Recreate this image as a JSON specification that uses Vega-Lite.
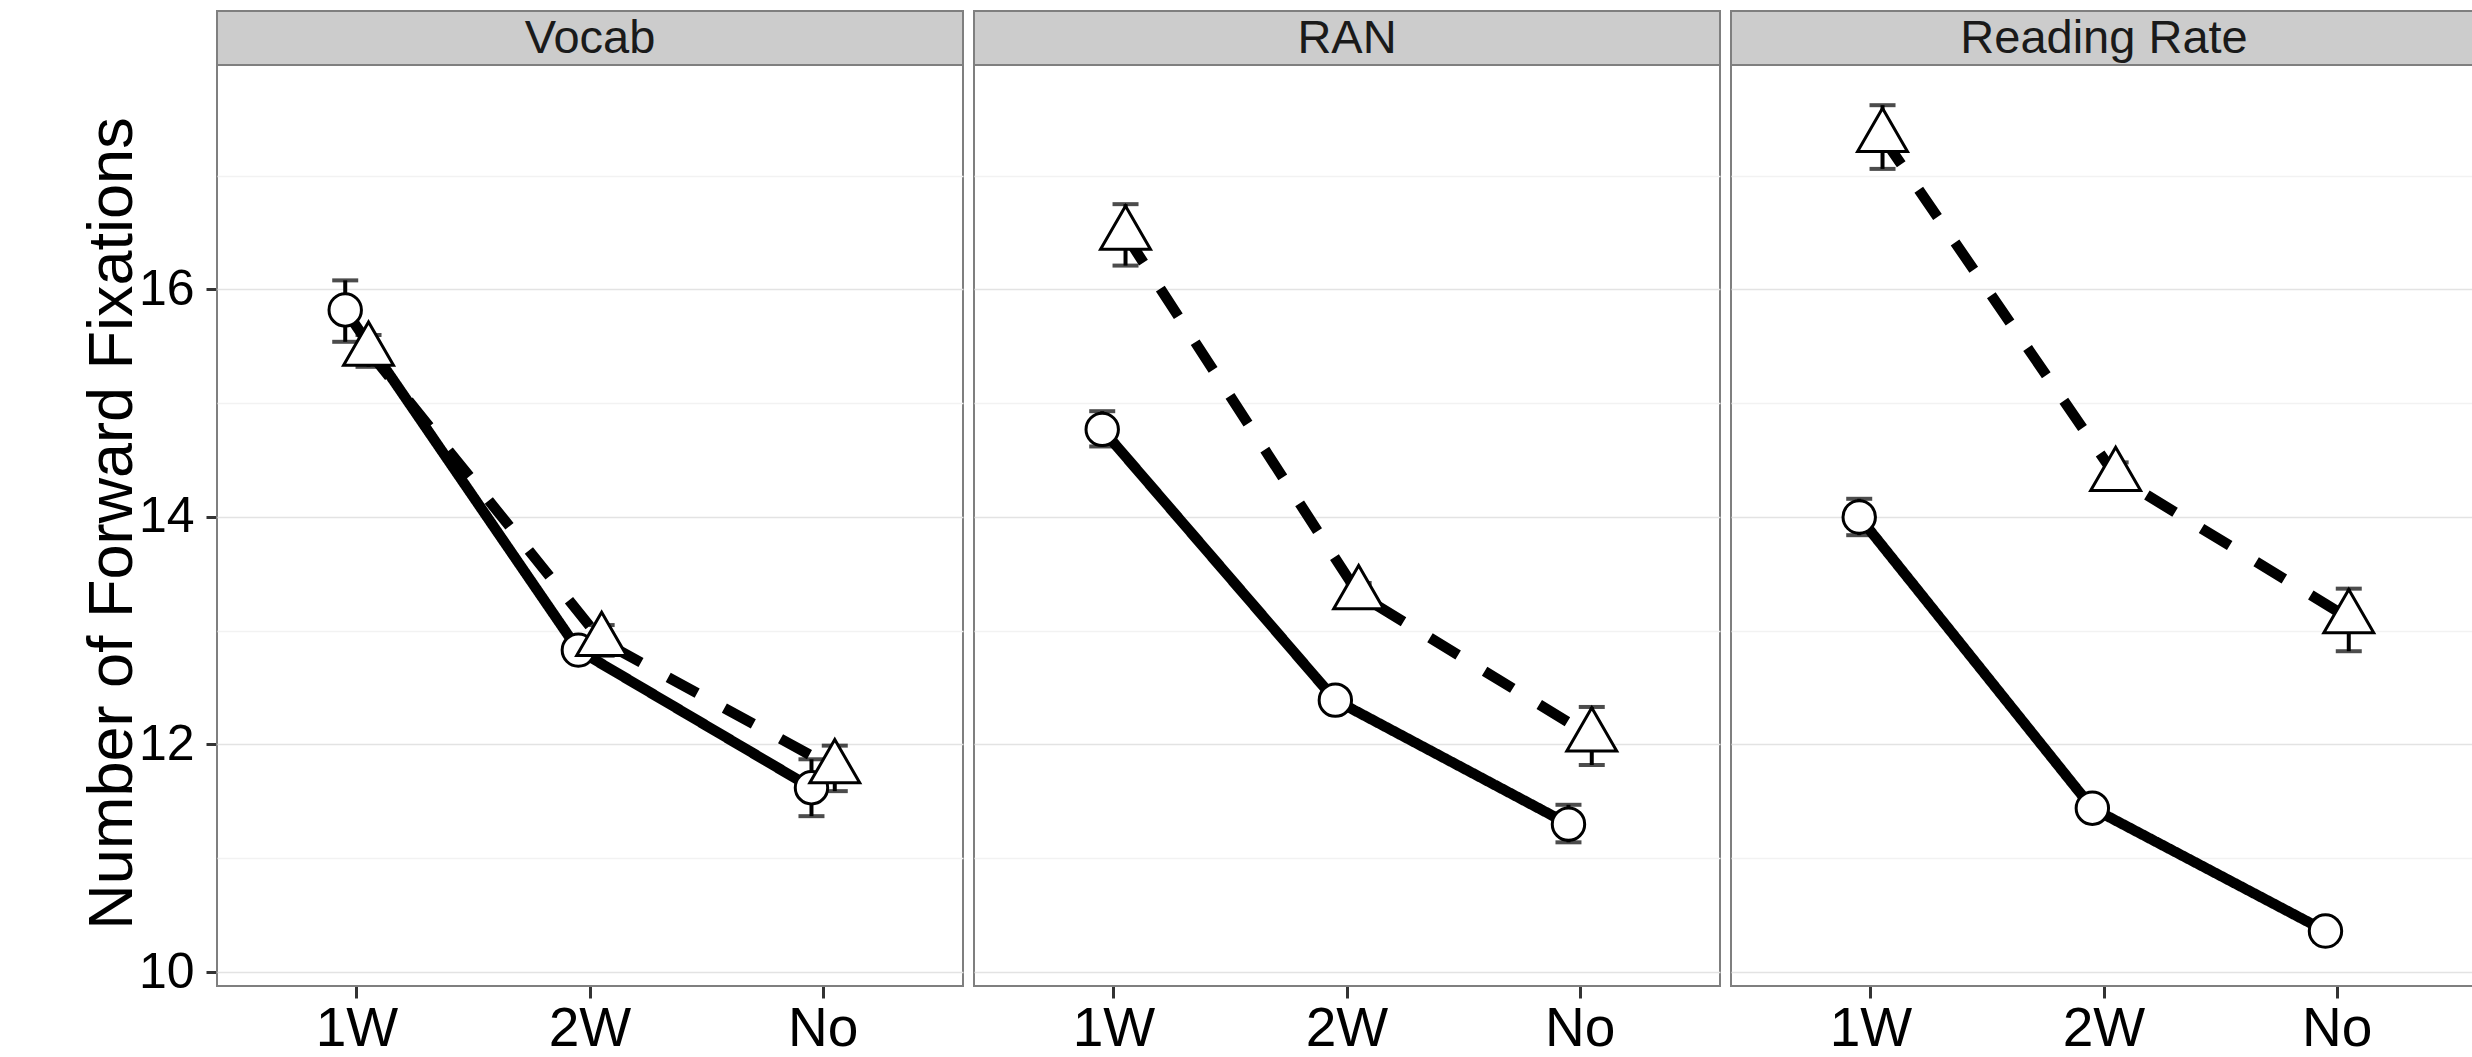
{
  "$schema": "https://vega.github.io/schema/vega-lite/v6.json",
  "padding": {"left": 80, "top": 9, "right": 0, "bottom": 0},
  "background": "white",
  "data": {"values": [
    {"panel": "Vocab", "cond": "1W", "group": "High", "mean": 15.82, "lo": 15.54, "hi": 16.08},
    {"panel": "Vocab", "cond": "2W", "group": "High", "mean": 12.83, "lo": 12.75, "hi": 12.91},
    {"panel": "Vocab", "cond": "No", "group": "High", "mean": 11.62, "lo": 11.37, "hi": 11.87},
    {"panel": "RAN", "cond": "1W", "group": "High", "mean": 14.77, "lo": 14.62, "hi": 14.93},
    {"panel": "RAN", "cond": "2W", "group": "High", "mean": 12.39, "lo": 12.31, "hi": 12.47},
    {"panel": "RAN", "cond": "No", "group": "High", "mean": 11.30, "lo": 11.14, "hi": 11.47},
    {"panel": "Reading Rate", "cond": "1W", "group": "High", "mean": 14.00, "lo": 13.84, "hi": 14.16},
    {"panel": "Reading Rate", "cond": "2W", "group": "High", "mean": 11.44, "lo": 11.36, "hi": 11.52},
    {"panel": "Reading Rate", "cond": "No", "group": "High", "mean": 10.36, "lo": 10.27, "hi": 10.45},
    {"panel": "Vocab", "cond": "1W", "group": "Low", "mean": 15.46, "lo": 15.32, "hi": 15.60},
    {"panel": "Vocab", "cond": "2W", "group": "Low", "mean": 12.91, "lo": 12.78, "hi": 13.05},
    {"panel": "Vocab", "cond": "No", "group": "Low", "mean": 11.79, "lo": 11.59, "hi": 11.99},
    {"panel": "RAN", "cond": "1W", "group": "Low", "mean": 16.48, "lo": 16.21, "hi": 16.75},
    {"panel": "RAN", "cond": "2W", "group": "Low", "mean": 13.32, "lo": 13.22, "hi": 13.42},
    {"panel": "RAN", "cond": "No", "group": "Low", "mean": 12.07, "lo": 11.82, "hi": 12.33},
    {"panel": "Reading Rate", "cond": "1W", "group": "Low", "mean": 17.34, "lo": 17.06, "hi": 17.62},
    {"panel": "Reading Rate", "cond": "2W", "group": "Low", "mean": 14.36, "lo": 14.24, "hi": 14.48},
    {"panel": "Reading Rate", "cond": "No", "group": "Low", "mean": 13.11, "lo": 12.82, "hi": 13.37}
  ]},
  "facet": {"column": {"field": "panel", "type": "nominal", "sort": ["Vocab", "RAN", "Reading Rate"], "header": {"labels": false, "title": null}, "title": null}},
  "spacing": 11,
  "bounds": "flush",
  "spec": {
    "width": 746,
    "height": 975,
    "layer": [
      {
        "mark": {"type": "rule", "color": "black", "strokeWidth": 4},
        "encoding": {
          "x": {"field": "cond", "type": "nominal", "scale": {"type": "band", "paddingInner": 0, "paddingOuter": 0.1}, "axis": {"title": null, "labelFontSize": 55, "labelAngle": 0, "tickSize": 12, "labelPadding": 4, "bandPosition": 0.5, "gridColor": "#E3E3E3", "labelColor": "black"}},
          "xOffset": {"field": "group", "type": "nominal", "scale": {"type": "band", "domain": ["High", "Low"], "range": [93.26, 139.86], "paddingInner": 0, "paddingOuter": 0}},
          "y": {"field": "lo", "type": "quantitative", "scale": {"domain": [9.877, 18.448], "nice": false, "zero": false}},
          "y2": {"field": "hi"}
        }
      },
      {
        "mark": {"type": "tick", "color": "black", "thickness": 4, "size": 26, "orient": "horizontal"},
        "encoding": {
          "x": {"field": "cond", "type": "nominal"},
          "xOffset": {"field": "group", "type": "nominal"},
          "y": {"field": "lo", "type": "quantitative"}
        }
      },
      {
        "mark": {"type": "tick", "color": "black", "thickness": 4, "size": 26, "orient": "horizontal"},
        "encoding": {
          "x": {"field": "cond", "type": "nominal"},
          "xOffset": {"field": "group", "type": "nominal"},
          "y": {"field": "hi", "type": "quantitative"}
        }
      },
      {
        "mark": {"type": "line", "color": "black", "strokeWidth": 10.5},
        "encoding": {
          "x": {"field": "cond", "type": "nominal"},
          "xOffset": {"field": "group", "type": "nominal"},
          "y": {"field": "mean", "type": "quantitative"},
          "strokeDash": {"field": "group", "type": "nominal", "scale": {"domain": ["High", "Low"], "range": [[1, 0], [33, 31]]}, "legend": null}
        }
      },
      {
        "mark": {"type": "point", "filled": false, "fill": "white", "fillOpacity": 1, "stroke": "black", "strokeWidth": 3, "opacity": 1, "size": 1050},
        "encoding": {
          "x": {"field": "cond", "type": "nominal"},
          "xOffset": {"field": "group", "type": "nominal"},
          "y": {"field": "mean", "type": "quantitative", "axis": {"title": "Number of Forward Fixations", "values": [10, 11, 12, 13, 14, 15, 16, 17], "format": "d", "labelExpr": "datum.value % 2 == 0 ? datum.label : ''", "tickOpacity": {"condition": {"test": "datum.value % 2 == 1", "value": 0}, "value": 1}, "gridColor": {"condition": {"test": "datum.value % 2 == 1", "value": "#F2F2F2"}, "value": "#E3E3E3"}, "labelFontSize": 50, "labelColor": "black", "tickSize": 11, "labelPadding": 12, "titleFontSize": 63, "titleFontWeight": "normal", "titleColor": "black", "titleAngle": 270, "titleAlign": "center", "titleBaseline": "alphabetic", "titleX": -86, "titleY": 512}},
          "shape": {"field": "group", "type": "nominal", "scale": {"domain": ["High", "Low"], "range": ["circle", "M0,-1.78L1.54,0.89L-1.54,0.89Z"]}, "legend": null}
        }
      },
      {
        "transform": [{"aggregate": [{"op": "count", "as": "n"}], "groupby": ["panel"]}],
        "mark": {"type": "rect", "fill": "#CCCCCC", "stroke": "#7F7F7F", "strokeWidth": 2},
        "encoding": {
          "y": {"datum": 17.974, "type": "quantitative"},
          "y2": {"datum": 18.448}
        }
      },
      {
        "transform": [{"aggregate": [{"op": "count", "as": "n"}], "groupby": ["panel"]}],
        "mark": {"type": "text", "fontSize": 47, "color": "#1A1A1A", "baseline": "middle", "align": "center"},
        "encoding": {
          "y": {"datum": 18.2, "type": "quantitative"},
          "text": {"field": "panel", "type": "nominal"}
        }
      }
    ]
  },
  "config": {
    "font": "Liberation Sans",
    "view": {"stroke": "#7F7F7F", "strokeWidth": 2, "fill": "white"},
    "axis": {"domain": false, "tickColor": "#333333", "tickWidth": 3, "gridWidth": 1.5, "labelFont": "Liberation Sans", "titleFont": "Liberation Sans"}
  }
}
